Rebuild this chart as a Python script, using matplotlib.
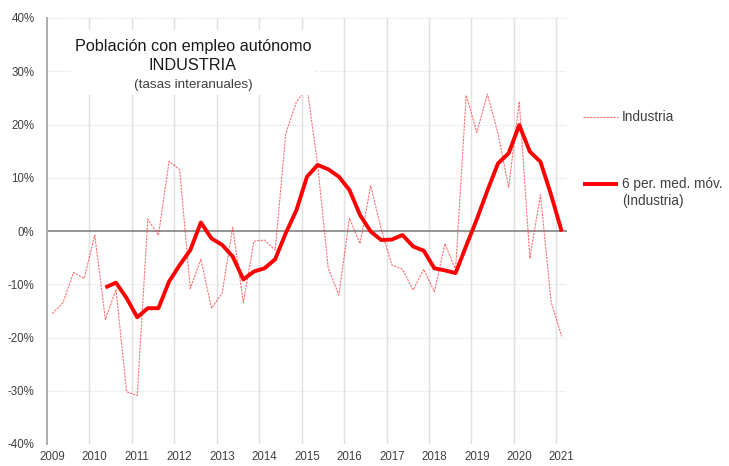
import matplotlib
matplotlib.use("Agg")
import matplotlib.pyplot as plt
from matplotlib.patches import Rectangle
from matplotlib.lines import Line2D

plt.rcParams['font.family'] = ['Liberation Sans', 'DejaVu Sans']

# Quarterly, 2009Q1 .. 2021Q1
years = [str(y) for y in range(2009, 2022)]
industria = [-15.5, -13.5, -7.8, -8.9, -0.8, -16.6, -11.0, -30.2, -30.9, 2.2,
             -0.8, 13.1, 11.5, -10.8, -5.3, -14.5, -11.7, 0.7, -13.5, -1.9,
             -1.7, -3.6, 18.3, 24.2, 27.0, 12.5, -7.0, -12.0, 2.4, -2.4,
             8.5, 0.3, -6.4, -7.2, -11.1, -7.2, -11.4, -2.4, -7.3, 25.5,
             18.5, 25.7, 18.3, 8.2, 24.3, -5.1, 6.8, -13.3, -19.8]
media_movil = [None, None, None, None, None, -10.6, -9.7, -12.6, -16.2, -14.5,
               -14.5, -9.5, -6.4, -3.6, 1.6, -1.4, -2.6, -4.8, -9.1, -7.6,
               -7.0, -5.3, -0.4, 3.9, 10.2, 12.4, 11.6, 10.2, 7.7, 3.0,
               -0.1, -1.7, -1.6, -0.75, -2.9, -3.7, -7.0, -7.4, -7.9, -2.8,
               2.2, 7.6, 12.7, 14.6, 19.9, 14.9, 13.0, 6.8, -0.1]
y_ticks = [-40, -30, -20, -10, 0, 10, 20, 30, 40]

W, H = 729, 466
fig = plt.figure(figsize=(W / 100, H / 100), dpi=100)
ax = fig.add_axes([47 / W, 1 - 444 / H, (567 - 47) / W, (444 - 18) / H])

x = list(range(len(industria)))
xm = [i for i, v in enumerate(media_movil) if v is not None]
ym = [v for v in media_movil if v is not None]

thin_style = dict(color='#ff3030', lw=0.8, ls=(0, (2, 1)), alpha=0.7)
thick_style = dict(color='#ff0000', lw=2.8, solid_joinstyle='round',
                   solid_capstyle='butt')

ax.plot(x, industria, zorder=3, **thin_style)
ax.plot(xm, ym, zorder=4, **thick_style)

ax.set_xlim(-0.5, len(industria) - 0.5)
ax.set_ylim(-40, 40)

for t in y_ticks:
    if t == 0:
        ax.axhline(0, color='#8c8c8c', lw=1.3, zorder=2)
    else:
        ax.axhline(t, color='#dbe5f1', lw=0.9, ls=(0, (1, 1)), zorder=1)
for k in range(1, len(years)):
    ax.axvline(4 * k - 0.5, color='#e0e0e0', lw=1.0, zorder=1)

ax.set_yticks(y_ticks)
ax.set_yticklabels([f'{t}%' for t in y_ticks])
ax.set_xticks(list(range(0, len(industria), 4)))
ax.set_xticklabels(years)
ax.tick_params(length=0, labelsize=8.3, colors='#404040')
ax.tick_params(axis='y', pad=9)
ax.tick_params(axis='x', pad=5)

for s in ['top', 'right', 'bottom']:
    ax.spines[s].set_visible(False)
ax.spines['left'].set_color('#a6a6a6')
ax.spines['left'].set_linewidth(1.3)

# Title box (white, covers lines)
def px2data(px, py):
    xd = -0.5 + (px - 47) / (567 - 47) * len(industria)
    yd = 40 - (py - 18) / (444 - 18) * 80
    return xd, yd

x0, y1 = px2data(72, 30)
x1, y0 = px2data(315, 95)
ax.add_patch(Rectangle((x0, y0), x1 - x0, y1 - y0, facecolor='white',
                       edgecolor='none', zorder=5))

fig.text(193 / W, 1 - 46 / H, 'Población con empleo autónomo', ha='center',
         va='center', fontsize=11.7, color='#1a1a1a')
fig.text(193 / W, 1 - 66 / H, 'INDUSTRIA', ha='center', va='center',
         fontsize=11.7, color='#1a1a1a')
fig.text(193 / W, 1 - 85 / H, '(tasas interanuales)', ha='center',
         va='center', fontsize=9.7, color='#404040')

# Legend drawn manually
def fy(py):
    return 1 - py / H

fig.add_artist(Line2D([583 / W, 618 / W], [fy(117), fy(117)],
                      transform=fig.transFigure, **thin_style))
fig.text(622 / W, fy(117), 'Industria', ha='left', va='center',
         fontsize=9.8, color='#404040')
fig.add_artist(Line2D([583 / W, 618 / W], [fy(184), fy(184)],
                      transform=fig.transFigure, **thick_style))
fig.text(622 / W, fy(184), '6 per. med. móv.', ha='left', va='center',
         fontsize=9.8, color='#404040')
fig.text(622 / W, fy(201), '(Industria)', ha='left', va='center',
         fontsize=9.8, color='#404040')

fig.savefig('out.png', dpi=100)
